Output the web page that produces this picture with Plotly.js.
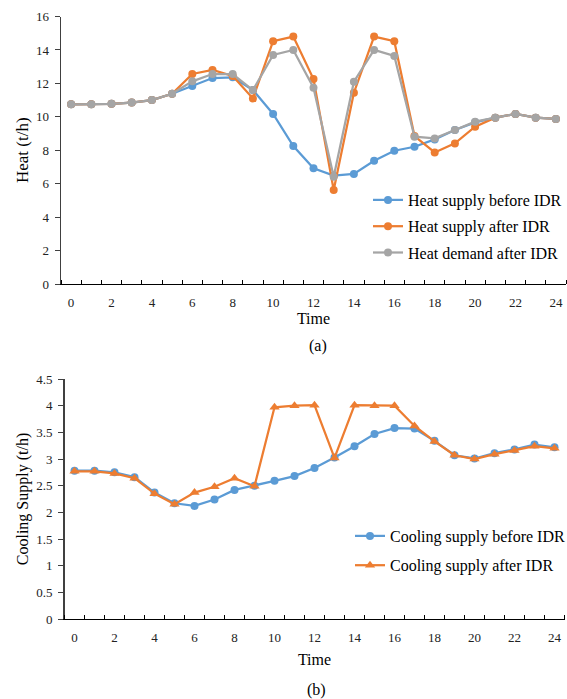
<!DOCTYPE html>
<html>
<head>
<meta charset="utf-8">
<script src="https://cdn.plot.ly/plotly-3.0.1.min.js"></script>
<style>
html,body{margin:0;padding:0;background:#fff;}
#chart{width:567px;height:699px;overflow:hidden;}
</style>
</head>
<body>
<div id="chart"></div>
<script>
const hours = [0,1,2,3,4,5,6,7,8,9,10,11,12,13,14,15,16,17,18,19,20,21,22,23,24];
const xTickLabels = [0,2,4,6,8,10,12,14,16,18,20,22,24];
const heatBefore = [10.75,10.75,10.78,10.85,11.0,11.38,11.84,12.32,12.36,11.6,10.17,8.25,6.92,6.48,6.58,7.37,7.97,8.21,8.65,9.21,9.67,9.95,10.17,9.95,9.87];
const heatAfter  = [10.75,10.75,10.78,10.85,11.0,11.38,12.56,12.8,12.44,11.1,14.52,14.8,12.26,5.62,11.44,14.8,14.52,8.85,7.87,8.41,9.41,9.95,10.17,9.95,9.87];
const heatDemand = [10.75,10.75,10.78,10.85,11.0,11.38,12.12,12.56,12.56,11.6,13.7,14.0,11.74,6.42,12.1,14.0,13.64,8.81,8.71,9.21,9.71,9.95,10.17,9.95,9.87];
const coolBefore = [2.78,2.78,2.75,2.66,2.37,2.17,2.12,2.24,2.42,2.50,2.59,2.68,2.83,3.03,3.24,3.47,3.58,3.57,3.34,3.07,3.01,3.11,3.18,3.27,3.22];
const coolAfter  = [2.77,2.77,2.73,2.64,2.35,2.15,2.37,2.48,2.64,2.49,3.97,4.0,4.01,3.02,4.01,4.0,4.0,3.62,3.33,3.07,3.0,3.09,3.16,3.24,3.2];
const heatYTicks = [0,2,4,6,8,10,12,14,16];
const coolYTicks = [0,0.5,1,1.5,2,2.5,3,3.5,4,4.5];
const coolYLabels = ['0','0.5','1','1.5','2','2.5','3','3.5','4','4.5'];

const BLUE = '#5B9BD5', ORANGE = '#ED7D31', GRAY = '#A5A5A5';
const FONT = 'Liberation Serif, Times New Roman, serif';
const W = 567, H = 699;

function line(x, y, name, color, symbol, xa, ya, legend, grp) {
  return {
    x: x, y: y, name: name, type: 'scatter', mode: 'lines+markers',
    xaxis: xa, yaxis: ya, legend: legend, legendgroup: grp,
    line: {color: color, width: 2.25},
    marker: {color: color, size: symbol === 'circle' ? 8 : 9, symbol: symbol}
  };
}

const data = [
  line(hours, heatBefore, 'Heat supply before IDR', BLUE, 'circle', 'x', 'y', 'legend', 'a1'),
  line(hours, heatAfter, 'Heat supply after IDR', ORANGE, 'circle', 'x', 'y', 'legend', 'a2'),
  line(hours, heatDemand, 'Heat demand after IDR', GRAY, 'circle', 'x', 'y', 'legend', 'a3'),
  line(hours, coolBefore, 'Cooling supply before IDR', BLUE, 'circle', 'x2', 'y2', 'legend2', 'b1'),
  line(hours, coolAfter, 'Cooling supply after IDR', ORANGE, 'triangle-up', 'x2', 'y2', 'legend2', 'b2')
];

function xaxis(domain, anchor, standoff) {
  return {
    domain: domain, anchor: anchor, range: [-0.5, 24.5],
    showgrid: false, zeroline: false, showline: true, linecolor: '#000', linewidth: 1.3,
    tickmode: 'array', tickvals: xTickLabels, ticktext: xTickLabels.map(String), ticks: '',
    ticklabelstandoff: 6,
    tickfont: {family: FONT, size: 13, color: '#222'},
    minor: {tickmode: 'linear', tick0: -0.5, dtick: 1, ticks: 'inside', ticklen: 4, tickwidth: 1, tickcolor: '#000', showgrid: false},
    title: {text: 'Time', font: {family: FONT, size: 16, color: '#000'}, standoff: standoff},
    automargin: false, fixedrange: true
  };
}
function yaxis(domain, anchor, range, vals, texts, title, tsize) {
  return {
    domain: domain, anchor: anchor, range: range,
    showgrid: false, zeroline: false, showline: true, linecolor: '#404040', linewidth: 1.3,
    tickmode: 'array', tickvals: vals, ticktext: texts, ticks: 'outside', ticklen: 5, tickwidth: 1, tickcolor: '#404040',
    ticklabelstandoff: 3,
    tickfont: {family: FONT, size: 13, color: '#222'},
    title: {text: title, font: {family: FONT, size: tsize, color: '#000'}, standoff: 3},
    automargin: false, fixedrange: true
  };
}

const layout = {
  width: W, height: H,
  margin: {l: 0, r: 0, t: 0, b: 0, autoexpand: false},
  paper_bgcolor: '#fff', plot_bgcolor: '#fff',
  font: {family: FONT, color: '#000'},
  xaxis: xaxis([61/W, 566/W], 'y', 3),
  yaxis: yaxis([1 - 284/H, 1 - 16.5/H], 'x', [0, 16], heatYTicks, heatYTicks.map(String), 'Heat (t/h)', 17),
  xaxis2: xaxis([64.5/W, 564.5/W], 'y2', 10),
  yaxis2: yaxis([1 - 619/H, 1 - 379/H], 'x2', [0, 4.5], coolYTicks, coolYLabels, 'Cooling Supply (t/h)', 16),
  legend: {
    x: 368/W, y: 1 - 183/H, xanchor: 'left', yanchor: 'top',
    bgcolor: 'rgba(0,0,0,0)', borderwidth: 0, tracegroupgap: 2.5,
    font: {family: FONT, size: 16, color: '#000'}, itemwidth: 30
  },
  legend2: {
    x: 350/W, y: 1 - 519/H, xanchor: 'left', yanchor: 'top',
    bgcolor: 'rgba(0,0,0,0)', borderwidth: 0, tracegroupgap: 5.5,
    font: {family: FONT, size: 16, color: '#000'}, itemwidth: 30
  },
  showlegend: true,
  annotations: [
    {text: '(a)', x: 318/W, y: 1 - 346/H, xref: 'paper', yref: 'paper', xanchor: 'center', yanchor: 'middle', showarrow: false, font: {family: FONT, size: 16, color: '#000'}},
    {text: '(b)', x: 316/W, y: 1 - 690/H, xref: 'paper', yref: 'paper', xanchor: 'center', yanchor: 'middle', showarrow: false, font: {family: FONT, size: 16, color: '#000'}}
  ]
};

Plotly.newPlot('chart', data, layout, {staticPlot: true, displayModeBar: false});
</script>
</body>
</html>
